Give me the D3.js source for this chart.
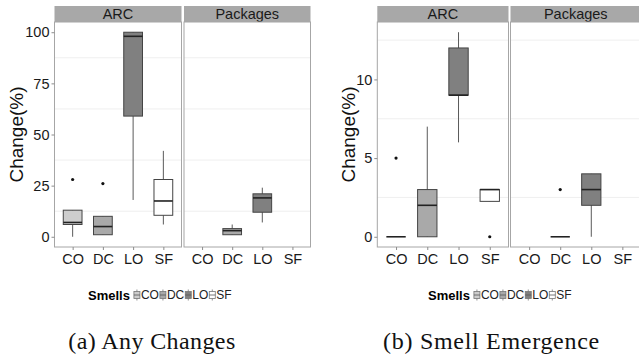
<!DOCTYPE html>
<html>
<head>
<meta charset="utf-8">
<script src="https://cdn.jsdelivr.net/npm/d3@7"></script>
<style>
body { margin: 0; background: #fff; }
svg { display: block; }
</style>
</head>
<body>
<svg id="fig" width="639" height="360"></svg>
<script>
// categories
var smells = ["CO", "DC", "LO", "SF"];
var facets = ["ARC", "Packages"];

// (a) Any Changes -- [lower whisker, q1, median, q3, upper whisker] per smell
var anyArcStats = [[0, 6, 7, 13, 13], [1, 1, 5, 10, 10], [18, 59, 98, 100, 100], [6, 10.5, 17.5, 28, 42]];
var anyArcOutliers = [[28], [26], [], []];
var anyPkgStats = [null, [1, 1, 3, 4, 6], [7, 12, 19, 21, 24], null];
var anyPkgOutliers = [[], [], [], []];
var anyTicks = [0, 25, 50, 75, 100];

// (b) Smell Emergence
var emgArcStats = [[0, 0, 0, 0, 0], [0, 0, 2, 3, 7], [6, 9, 9, 12, 13], [2.25, 2.25, 3, 3, 3]];
var emgArcOutliers = [[5], [], [], [0]];
var emgPkgStats = [null, [0, 0, 0, 0, 0], [0, 2, 3, 4, 4], null];
var emgPkgOutliers = [[], [3], [], []];
var emgTicks = [0, 5, 10];

var captions = ["(a) Any Changes", "(b) Smell Emergence"];

var fill = d3.scaleOrdinal().domain(smells).range(["#cdcdcd", "#a9a9a9", "#808080", "#ffffff"]);
var sans = "'Liberation Sans', Arial, sans-serif";

function facet_rows(stats, outliers) {
    return smells.map(function(s, i) {
	return {smell: s, stats: stats[i], out: outliers[i]};
    }).filter(function(d) { return d.stats !== null || d.out.length; });
}

var charts = [
    {panels: [[54.5, 181.5], [184, 310.5]], domain: [-5, 105], ticks: anyTicks,
     data: [facet_rows(anyArcStats, anyArcOutliers), facet_rows(anyPkgStats, anyPkgOutliers)],
     titleX: 16, legendStart: 88, caption: captions[0], capX: 152, capSpacing: 0.4},
    {panels: [[377.3, 508.5], [510.5, 641]], domain: [-0.65, 13.65], ticks: emgTicks,
     data: [facet_rows(emgArcStats, emgArcOutliers), facet_rows(emgPkgStats, emgPkgOutliers)],
     titleX: 348, legendStart: 428, caption: captions[1], capX: 491.5, capSpacing: 0.7}
];

var svg = d3.select("#fig");
var plotTop = 22, plotBottom = 247, stripTop = 6;

charts.forEach(function(c) {
    var g = svg.append("g");
    var y = d3.scaleLinear().domain(c.domain).range([plotBottom, plotTop]);
    var minor = d3.pairs(c.ticks).map(function(p) { return (p[0] + p[1]) / 2; });
    minor.push(c.ticks[c.ticks.length - 1] + (c.ticks[1] - c.ticks[0]) / 2);
    minor = minor.filter(function(v) { return v < c.domain[1]; });

    c.panels.forEach(function(p, fi) {
	var x = d3.scalePoint().domain(smells).range(p).padding(0.6);
	var bw = x.step() * 0.62;
	var pg = g.append("g");

	// strip
	pg.append("rect")
	    .attr("x", p[0]).attr("y", stripTop)
	    .attr("width", p[1] - p[0]).attr("height", plotTop - stripTop)
	    .style("fill", "#a8a8a8");
	pg.append("text")
	    .attr("x", (p[0] + p[1]) / 2).attr("y", (stripTop + plotTop) / 2)
	    .attr("dy", "0.36em")
	    .attr("text-anchor", "middle")
	    .style("font-family", sans).style("font-size", "14.5px")
	    .style("fill", "#1a1a1a")
	    .text(facets[fi]);

	// minor grid
	pg.selectAll(".grid").data(minor).enter().append("line")
	    .attr("x1", p[0]).attr("x2", p[1])
	    .attr("y1", function(d) { return y(d); })
	    .attr("y2", function(d) { return y(d); })
	    .style("stroke", "#efefef");

	// panel border
	pg.append("rect")
	    .attr("x", p[0]).attr("y", plotTop)
	    .attr("width", p[1] - p[0]).attr("height", plotBottom - plotTop)
	    .style("fill", "none").style("stroke", "#a6a6a6");

	// x axis
	var xa = pg.append("g").attr("transform", "translate(0," + plotBottom + ")")
	    .call(d3.axisBottom(x).tickSize(3).tickPadding(4));
	xa.select(".domain").remove();
	xa.selectAll("line").style("stroke", "#8c8c8c");
	xa.selectAll("text").style("font-family", sans).style("font-size", "14.5px").style("fill", "#1a1a1a");

	// boxes
	var rows = c.data[fi];
	var box = pg.selectAll(".box").data(rows).enter().append("g");
	box.filter(function(d) { return d.stats; }).each(function(d) {
	    var b = d3.select(this), cx = x(d.smell), s = d.stats;
	    b.append("line").attr("x1", cx).attr("x2", cx)
		.attr("y1", y(s[0])).attr("y2", y(s[4]))
		.style("stroke", "#5a5a5a");
	    b.append("rect")
		.attr("x", cx - bw / 2).attr("width", bw)
		.attr("y", y(s[3])).attr("height", Math.max(y(s[1]) - y(s[3]), 0))
		.style("fill", fill(d.smell)).style("stroke", "#444");
	    b.append("line").attr("x1", cx - bw / 2).attr("x2", cx + bw / 2)
		.attr("y1", y(s[2])).attr("y2", y(s[2]))
		.style("stroke", "#222").style("stroke-width", 1.6);
	});
	box.selectAll("circle").data(function(d) {
	    return d.out.map(function(v) { return {smell: d.smell, v: v}; });
	}).enter().append("circle")
	    .attr("cx", function(d) { return x(d.smell); })
	    .attr("cy", function(d) { return y(d.v); })
	    .attr("r", 1.6)
	    .style("fill", "#111");
    });

    // y axis
    var ya = g.append("g").attr("transform", "translate(" + c.panels[0][0] + ",0)")
	.call(d3.axisLeft(y).tickValues(c.ticks).tickSize(3).tickPadding(2));
    ya.select(".domain").remove();
    ya.selectAll("line").style("stroke", "#8c8c8c");
    ya.selectAll("text").style("font-family", sans).style("font-size", "14.5px").style("fill", "#1a1a1a");

    g.append("text")
	.attr("transform", "translate(" + c.titleX + "," + (plotTop + plotBottom) / 2 + ") rotate(-90)")
	.attr("dy", "0.36em")
	.attr("text-anchor", "middle")
	.style("font-family", sans).style("font-size", "19px")
	.style("fill", "#111")
	.text("Change(%)");

    // legend
    var ly = 295;
    var lg = g.append("g");
    var title = lg.append("text")
	.attr("x", c.legendStart).attr("y", ly).attr("dy", "0.36em")
	.style("font-family", sans).style("font-size", "13px").style("font-weight", "bold")
	.text("Smells");
    var lx = c.legendStart + title.node().getComputedTextLength() + 4;
    smells.forEach(function(s) {
	var k = lg.append("g").attr("transform", "translate(" + (lx + 3) + "," + ly + ")");
	k.append("line").attr("y1", -5.5).attr("y2", 5.5).style("stroke", "#777").style("stroke-width", 0.8);
	k.append("rect").attr("x", -3).attr("y", -3.5).attr("width", 6).attr("height", 7)
	    .style("fill", fill(s)).style("stroke", "#777").style("stroke-width", 0.8);
	k.append("line").attr("x1", -3).attr("x2", 3).style("stroke", "#555").style("stroke-width", 0.8);
	var t = lg.append("text")
	    .attr("x", lx + 7).attr("y", ly).attr("dy", "0.36em")
	    .style("font-family", sans).style("font-size", "12px")
	    .style("fill", "#222")
	    .text(s);
	lx += 7 + t.node().getComputedTextLength() + 1;
    });

    // caption
    g.append("text")
	.attr("x", c.capX).attr("y", 349)
	.attr("text-anchor", "middle")
	.style("font-family", "'Liberation Serif', 'Times New Roman', serif")
	.style("font-size", "24px").style("letter-spacing", c.capSpacing + "px")
	.style("fill", "#111")
	.text(c.caption);
});
</script>
</body>
</html>
